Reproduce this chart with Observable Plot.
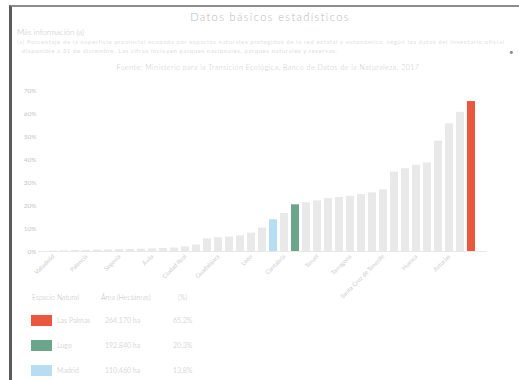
<!DOCTYPE html>
<html><head><meta charset="utf-8">
<script src="https://cdn.jsdelivr.net/npm/d3@7"></script>
<script src="https://cdn.jsdelivr.net/npm/@observablehq/plot@0.6"></script>
<style>
body{margin:0;background:#fff;font-family:Lato,"Open Sans",sans-serif;width:519px;height:380px;overflow:hidden;position:relative;}
#frame{position:absolute;left:9px;top:5px;width:510px;height:380px;border-left:3px solid #5a5a5a;border-top:2px solid #8c8c8c;box-sizing:border-box;}
.t{position:absolute;white-space:nowrap;}
#chart{position:absolute;left:0;top:80px;}
.sw{position:absolute;width:21px;height:11px;}
</style></head><body>
<div id="frame"></div>
<div class="t" style="left:0;width:540px;text-align:center;top:10px;font-size:11px;font-weight:300;color:#b8b8b8;letter-spacing:1.4px;">Datos básicos estadísticos</div>
<div class="t" style="left:17px;top:27px;font-size:8px;font-weight:300;color:#c4c4c4;">Más información (a)</div>
<div class="t" style="left:17px;top:38px;font-size:6px;color:#e2e2e2;letter-spacing:0.6px;">(a) Porcentaje de la superficie provincial ocupada por espacios naturales protegidos de la red estatal y autonómica, según los datos del inventario oficial</div>
<div class="t" style="left:22px;top:47px;font-size:6px;color:#dedede;letter-spacing:0.6px;">disponible a 31 de diciembre. Las cifras incluyen parques nacionales, parques naturales y reservas.</div>
<div class="t" style="left:509px;top:47px;font-size:8px;color:#8a8a8a;">•</div>
<div class="t" style="left:0;width:536px;text-align:center;top:63px;font-size:7px;font-weight:300;color:#c8c8c8;letter-spacing:0.5px;">Fuente: Ministerio para la Transición Ecológica, Banco de Datos de la Naturaleza, 2017</div>
<div id="chart"></div>
<div id="legend"></div>
<script>
const names = ["Valladolid","Soria","Zamora","Palencia","Burgos","Salamanca","Segovia","Cuenca","Albacete","Ávila","Toledo","Badajoz","Ciudad Real","Cáceres","Sevilla","Guadalajara","Huelva","Córdoba","León","Valencia","Madrid","Cantabria","Lugo","Ourense","Teruel","Jaén","Granada","Tarragona","Almería","Murcia","Santa Cruz de Tenerife","Zaragoza","Lleida","Huesca","Girona","Navarra","Asturias","La Rioja","Las Palmas"];
const values = [0.2,0.3,0.4,0.5,0.6,0.7,0.8,0.9,1.0,1.1,1.3,1.5,2.0,2.8,5.5,6.0,6.3,6.8,8.0,10.2,13.8,16.5,20.3,21.2,22.0,23.0,23.5,24.0,24.8,25.5,26.8,34.5,36.0,37.5,38.5,48.0,55.5,60.5,65.2];
const yTicks = [0,10,20,30,40,50,60,70];
const hlNames = ["Las Palmas","Lugo","Madrid"];
const hlColors = ["#e8573e","#6aa58c","#b7ddf5"];
const hlArea = ["264.170 ha","192.840 ha","110.460 ha"];
const hlPct = ["65,2%","20,3%","13,8%"];
const legendHeader = ["Espacio Natural","Área (Hectáreas)","(%)"];
const baseColor = "#e9e9e9";

const data = names.map((n,i)=>({name:n, value:values[i]}));
const colorOf = n => { const k = hlNames.indexOf(n); return k<0 ? baseColor : hlColors[k]; };
const tickNames = names.filter((n,i)=> i%3===0);

const chart = Plot.plot({
  width: 519, height: 222,
  marginLeft: 38, marginRight: 32, marginTop: 10, marginBottom: 51,
  style: {fontFamily: "Lato, 'Open Sans', sans-serif", color: "#c8c8c8", background: "transparent"},
  x: {domain: names, padding: 0.25, label: null},
  y: {domain: [0,70], label: null},
  color: {type: "identity"},
  marks: [
    Plot.barY(data, {x: "name", y: "value", fill: d => colorOf(d.name)}),
    Plot.ruleY([0], {stroke: "#e8e8e8"}),
    Plot.axisY(yTicks, {tickSize: 0, tickPadding: 2, tickFormat: d => d + "%", fontSize: 6.5, fill: "#c6c6c6"}),
    Plot.axisX(tickNames, {tickSize: 0, tickPadding: 4, tickRotate: -45, fontSize: 6, fill: "#cdcdcd"})
  ]
});
document.getElementById("chart").appendChild(chart);

const lg = document.getElementById("legend");
const hx = [32, 101, 178];
legendHeader.forEach((h,i)=>{
  const d = document.createElement("div");
  d.className = "t"; d.textContent = h;
  d.style.cssText += `left:${hx[i]}px;top:293px;font-size:7px;font-weight:300;color:#bdbdbd;`;
  lg.appendChild(d);
});
hlNames.forEach((n,k)=>{
  const y = 315 + k*25;
  const s = document.createElement("div");
  s.className = "sw"; s.style.left = "31px"; s.style.top = y + "px"; s.style.background = hlColors[k];
  lg.appendChild(s);
  [[57,n],[105,hlArea[k]],[173,hlPct[k]]].forEach(([x,txt])=>{
    const d = document.createElement("div");
    d.className = "t"; d.textContent = txt;
    d.style.cssText += `left:${x}px;top:${y+1}px;font-size:7px;color:#dadada;`;
    lg.appendChild(d);
  });
});
</script>
</body></html>
